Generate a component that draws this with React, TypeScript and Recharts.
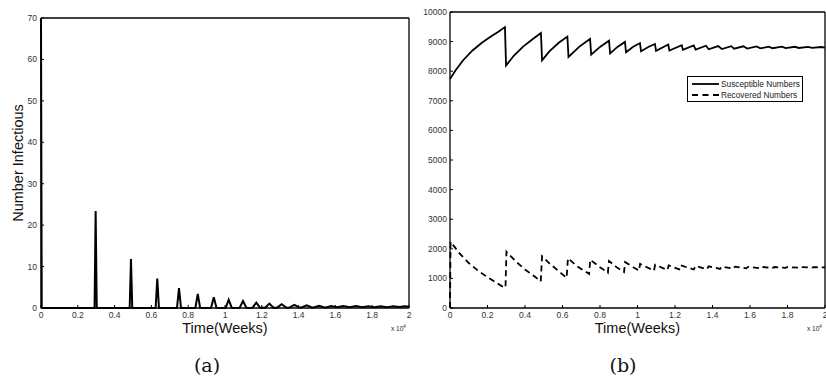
import { Legend, Line, LineChart, XAxis, YAxis } from 'recharts'

// time is in units of 10^4 weeks, as on the original axes
const timeTicks = [0, 0.2, 0.4, 0.6, 0.8, 1, 1.2, 1.4, 1.6, 1.8, 2]
const infectiousTicks = [0, 10, 20, 30, 40, 50, 60, 70]
const populationTicks = [0, 1000, 2000, 3000, 4000, 5000, 6000, 7000, 8000, 9000, 10000]

const infectiousTime = [
  0, 0.004, 0.291, 0.297, 0.303,
  0.482, 0.489, 0.496,
  0.623, 0.632, 0.641,
  0.739, 0.75, 0.761,
  0.839, 0.852, 0.865,
  0.924, 0.939, 0.954,
  1.003, 1.02, 1.037,
  1.079, 1.098, 1.117,
  1.149, 1.17, 1.191,
  1.218, 1.241, 1.264,
  1.283, 1.308, 1.333,
  1.35, 1.377, 1.404,
  1.416, 1.444, 1.472,
  1.482, 1.511, 1.54,
  1.548, 1.578, 1.609,
  1.643, 1.677, 1.712, 1.745, 1.779, 1.812, 1.846, 1.88, 1.915, 1.946, 1.978, 2.0,
]
const infectiousValue = [
  70, 0, 0, 23.4, 0,
  0, 11.8, 0,
  0, 7.1, 0,
  0, 4.8, 0,
  0, 3.4, 0,
  0, 2.6, 0,
  0.02, 2.0, 0.02,
  0.03, 1.7, 0.03,
  0.05, 1.3, 0.05,
  0.06, 1.05, 0.06,
  0.08, 0.9, 0.08,
  0.1, 0.75, 0.1,
  0.12, 0.65, 0.12,
  0.14, 0.56, 0.14,
  0.15, 0.5, 0.16,
  0.48, 0.17, 0.45, 0.18, 0.44, 0.2, 0.42, 0.21, 0.4, 0.22, 0.4, 0.3,
]

const susceptibleTime = [
  0, 0.03, 0.07, 0.12, 0.17, 0.22, 0.26, 0.293,
  0.299, 0.34, 0.39, 0.44, 0.485,
  0.491, 0.53, 0.58, 0.626,
  0.632, 0.69, 0.747,
  0.753, 0.8, 0.848,
  0.854, 0.893, 0.933,
  0.939, 0.975, 1.013,
  1.019, 1.055, 1.093,
  1.099, 1.164, 1.17, 1.236, 1.242, 1.3, 1.31, 1.365, 1.38, 1.43, 1.45, 1.5, 1.515, 1.565,
  1.585, 1.635, 1.655, 1.7, 1.72, 1.77, 1.79, 1.84, 1.86, 1.91, 1.93, 1.98, 2.0,
]
const susceptibleValue = [
  7740, 8030, 8370, 8700, 8960, 9180, 9340, 9490,
  8190, 8520, 8830, 9080, 9290,
  8370, 8670, 8960, 9170,
  8480, 8830, 9090,
  8560, 8820, 9030,
  8600, 8820, 8990,
  8640, 8820, 8950,
  8670, 8810, 8920,
  8690, 8900, 8700, 8880, 8720, 8870, 8730, 8860, 8740, 8850, 8750, 8845, 8760, 8840,
  8765, 8835, 8770, 8830, 8775, 8828, 8780, 8825, 8785, 8822, 8788, 8818, 8800,
]

const recoveredTime = [
  0, 0.003, 0.05, 0.1, 0.15, 0.2, 0.25, 0.285, 0.296,
  0.301, 0.35, 0.4, 0.45, 0.484,
  0.491, 0.53, 0.58, 0.622,
  0.629, 0.68, 0.742,
  0.748, 0.8, 0.842,
  0.848, 0.888, 0.928,
  0.934, 1.008, 1.014, 1.088, 1.094, 1.16, 1.166, 1.23, 1.236, 1.3, 1.31, 1.37, 1.38, 1.44,
  1.45, 1.51, 1.52, 1.58, 1.59, 1.65, 1.66, 1.72, 1.73, 1.79, 1.8, 1.86, 1.87, 1.93, 1.94, 2.0,
]
const recoveredValue = [
  0, 2240, 1850, 1520, 1260, 1040, 840, 710, 690,
  1900, 1580, 1300, 1070, 900,
  1750, 1510, 1240, 1020,
  1680, 1400, 1150,
  1630, 1380, 1190,
  1590, 1380, 1210,
  1550, 1260, 1490, 1260, 1460, 1285, 1440, 1290, 1430, 1300, 1420, 1310, 1410, 1320,
  1400, 1330, 1395, 1340, 1390, 1345, 1390, 1350, 1385, 1355, 1385, 1360, 1382, 1362, 1380, 1370,
]

const legendItems = [
  { name: 'Susceptible Numbers', dash: undefined },
  { name: 'Recovered Numbers', dash: '6 4.5' },
]

const infectiousData = infectiousTime.map((t, i) => ({ t, v: infectiousValue[i] }))
const susceptibleData = susceptibleTime.map((t, i) => ({ t, v: susceptibleValue[i] }))
const recoveredData = recoveredTime.map((t, i) => ({ t, v: recoveredValue[i] }))

const tickStyle = { fontSize: 8.5, fill: '#333' }
const axisLine = { stroke: '#000', strokeWidth: 1.3 }
const tickLine = { stroke: '#000' }
const fmtTime = (v: number) => String(Math.round(v * 10) / 10)

function LegendBox() {
  return (
    <div style={{ width: 116, height: 26, border: '1px solid #000', boxSizing: 'border-box', background: '#fff', fontSize: 8.3, color: '#222', paddingTop: 1, paddingLeft: 4 }}>
      {legendItems.map((item) => (
        <div key={item.name} style={{ display: 'flex', alignItems: 'center', height: 11.5 }}>
          <svg width={27} height={6} style={{ display: 'block' }}>
            <line x1={0} y1={3} x2={27} y2={3} stroke="#000" strokeWidth={1.8} strokeDasharray={item.dash} />
          </svg>
          <span style={{ marginLeft: 2, whiteSpace: 'nowrap' }}>{item.name}</span>
        </div>
      ))}
    </div>
  )
}

function Exponent({ left }: { left: number }) {
  return (
    <div style={{ position: 'absolute', left, top: 324, fontSize: 6.5, color: '#222', whiteSpace: 'nowrap' }}>
      x 10<sup style={{ fontSize: 4.5 }}>4</sup>
    </div>
  )
}

function Caption({ left, text }: { left: number; text: string }) {
  return (
    <div style={{ position: 'absolute', left: left - 20, width: 40, top: 354, textAlign: 'center', fontFamily: "'DejaVu Serif', serif", fontSize: 19, color: '#111' }}>
      {text}
    </div>
  )
}

export default function App() {
  return (
    <div style={{ position: 'relative', width: 826, height: 378, background: '#fff', fontFamily: "'Liberation Sans', Arial, sans-serif" }}>
      <style>{'body { margin: 0; }'}</style>

      <div style={{ position: 'absolute', left: 0, top: 0 }}>
        <LineChart width={420} height={340} margin={{ top: 17, right: 10, bottom: 0, left: 0 }}>
          <XAxis dataKey="t" type="number" domain={[0, 2]} ticks={timeTicks} interval={0} tickFormatter={fmtTime}
            height={32} tickSize={-3} tickMargin={7} tick={tickStyle} axisLine={axisLine} tickLine={tickLine}
            label={{ value: 'Time(Weeks)', position: 'insideBottom', offset: 7, fontSize: 14.5, fill: '#111' }} />
          <XAxis xAxisId="top" orientation="top" dataKey="t" type="number" domain={[0, 2]} ticks={timeTicks} interval={0}
            height={1} tickSize={-3} tick={false} axisLine={axisLine} tickLine={tickLine} />
          <YAxis type="number" domain={[0, 70]} ticks={infectiousTicks} interval={0} width={41}
            tickSize={-3} tickMargin={7} tick={tickStyle} axisLine={axisLine} tickLine={tickLine}
            label={{ value: 'Number Infectious', angle: -90, position: 'insideLeft', offset: 18, textAnchor: 'middle', fontSize: 14.5, fill: '#111' }} />
          <YAxis yAxisId="right" orientation="right" type="number" domain={[0, 70]} ticks={infectiousTicks} interval={0}
            width={1} tickSize={-3} tick={false} axisLine={axisLine} tickLine={tickLine} />
          <Line xAxisId="top" yAxisId="right" data={infectiousData} dataKey="v" stroke="none" dot={false} activeDot={false}
            legendType="none" isAnimationActive={false} />
          <Line data={infectiousData} dataKey="v" type="linear" stroke="#000" strokeWidth={2} dot={false} isAnimationActive={false} />
        </LineChart>
      </div>

      <div style={{ position: 'absolute', left: 410, top: 0 }}>
        <LineChart width={416} height={340} margin={{ top: 11, right: 0, bottom: 0, left: 0 }}>
          <XAxis dataKey="t" type="number" domain={[0, 2]} ticks={timeTicks} interval={0} tickFormatter={fmtTime}
            height={32} tickSize={-3} tickMargin={7} tick={tickStyle} axisLine={axisLine} tickLine={tickLine}
            label={{ value: 'Time(Weeks)', position: 'insideBottom', offset: 7, fontSize: 14.5, fill: '#111' }} />
          <XAxis xAxisId="top" orientation="top" dataKey="t" type="number" domain={[0, 2]} ticks={timeTicks} interval={0}
            height={1} tickSize={-3} tick={false} axisLine={axisLine} tickLine={tickLine} />
          <YAxis type="number" domain={[0, 10000]} ticks={populationTicks} interval={0} width={40}
            tickSize={-3} tickMargin={6} tick={tickStyle} axisLine={axisLine} tickLine={tickLine} />
          <YAxis yAxisId="right" orientation="right" type="number" domain={[0, 10000]} ticks={populationTicks} interval={0}
            width={1} tickSize={-3} tick={false} axisLine={axisLine} tickLine={tickLine} />
          <Line xAxisId="top" yAxisId="right" data={susceptibleData} dataKey="v" stroke="none" dot={false} activeDot={false}
            legendType="none" isAnimationActive={false} />
          <Legend layout="vertical" align="center" verticalAlign="middle" wrapperStyle={{ left: 277, top: 76, width: 116 }} content={() => <LegendBox />} />
          <Line data={susceptibleData} dataKey="v" name="Susceptible Numbers" type="linear" stroke="#000" strokeWidth={1.8} dot={false} isAnimationActive={false} />
          <Line data={recoveredData} dataKey="v" name="Recovered Numbers" type="linear" stroke="#000" strokeWidth={1.8} strokeDasharray="6 4" dot={false} isAnimationActive={false} />
        </LineChart>
      </div>

      <Exponent left={391} />
      <Exponent left={807} />
      <Caption left={207} text="(a)" />
      <Caption left={623} text="(b)" />
    </div>
  )
}
